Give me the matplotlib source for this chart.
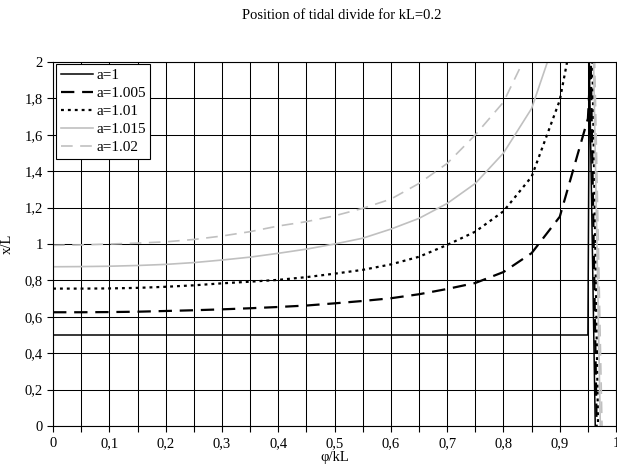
import matplotlib as mpl
import matplotlib.pyplot as plt
import numpy as np
from matplotlib.ticker import MultipleLocator, FuncFormatter

mpl.rcParams["font.family"] = ["Liberation Serif", "DejaVu Serif"]
mpl.rcParams["font.size"] = 10.5

# phi/kL sample points
phi = [0.0, 0.05, 0.1, 0.15, 0.2, 0.25, 0.3, 0.35, 0.4, 0.45,
       0.5, 0.55, 0.6, 0.65, 0.7, 0.75, 0.8, 0.85, 0.9, 0.95]

# x/L for each a
xl_a1 = [0.5] * 20
xl_a1005 = [0.625, 0.625, 0.626, 0.628, 0.632, 0.636, 0.641, 0.647, 0.654, 0.662,
            0.674, 0.687, 0.702, 0.724, 0.753, 0.786, 0.846, 0.95, 1.15, 1.69]
xl_a101 = [0.755, 0.755, 0.756, 0.759, 0.765, 0.773, 0.784, 0.793, 0.803, 0.818,
           0.837, 0.858, 0.888, 0.93, 0.995, 1.068, 1.18, 1.37, 1.79, 2.6]
xl_a1015 = [0.875, 0.876, 0.878, 0.882, 0.888, 0.898, 0.912, 0.928, 0.949, 0.972,
            1.0, 1.032, 1.082, 1.141, 1.223, 1.333, 1.5, 1.745, 2.2, 3.5]
xl_a102 = [0.993, 0.995, 1.0, 1.005, 1.012, 1.025, 1.044, 1.068, 1.099, 1.123,
           1.155, 1.196, 1.247, 1.333, 1.443, 1.6, 1.78, 2.1, 2.8, 4.0]

# points past the singularity near phi/kL ~ 0.96
tail_phi = [[0.9525, 0.963], [0.955, 0.9655], [0.958, 0.968], [0.960, 0.972], [0.962, 0.975]]
tail_xl = [[2.0, 0.0], [2.0, 0.0], [2.0, 0.0], [2.0, 0.0], [2.0, 0.0]]

labels = ["a=1", "a=1.005", "a=1.01", "a=1.015", "a=1.02"]
series = [xl_a1, xl_a1005, xl_a101, xl_a1015, xl_a102]
styles = [
    dict(color="black", lw=1.1, ls="-"),
    dict(color="black", lw=1.6, ls=(0, (6, 3.5))),
    dict(color="black", lw=1.6, ls=(0, (1.3, 1.8))),
    dict(color="#c0c0c0", lw=1.2, ls="-"),
    dict(color="#c0c0c0", lw=1.2, ls=(0, (7, 4.5))),
]

fig = plt.figure(figsize=(6.17, 4.72), dpi=100)
ax = fig.add_axes([0.086, 0.0975, 0.9125, 0.771])

for ys, tp, ty, lab, st in zip(series, tail_phi, tail_xl, labels, styles):
    ax.plot(phi + tp, ys + ty, label=lab, **st)

ax.set_xlim(0, 1)
ax.set_ylim(0, 2)
ax.xaxis.set_major_locator(MultipleLocator(0.1))
ax.xaxis.set_minor_locator(MultipleLocator(0.05))
ax.yaxis.set_major_locator(MultipleLocator(0.2))

comma = FuncFormatter(lambda v, p: ("%g" % round(v, 2)).replace(".", ","))
ax.xaxis.set_major_formatter(comma)
ax.yaxis.set_major_formatter(comma)

ax.tick_params(which="both", direction="out", length=4, width=0.8, color="black")
ax.tick_params(axis="x", pad=4)
ax.grid(which="both", axis="x", color="black", lw=0.75)
ax.grid(which="major", axis="y", color="black", lw=0.75)
ax.set_axisbelow(True)
for sp in ax.spines.values():
    sp.set_color("black")
    sp.set_linewidth(0.8)

ax.set_xlabel("φ/kL", labelpad=1)
ax.set_ylabel("x/L")
ax.yaxis.set_label_coords(-0.07, 0.5)
fig.text(0.553, 0.968, "Position of tidal divide for kL=0.2", ha="center", va="center")

leg = ax.legend(loc="upper left", bbox_to_anchor=(0.006, 0.995), frameon=True,
                fancybox=False, framealpha=1, edgecolor="black", borderpad=0.3,
                labelspacing=0.28, handlelength=2.1, handletextpad=0.2,
                borderaxespad=0.0, fontsize=11)
leg.get_frame().set_linewidth(0.8)

plt.savefig("out.png", dpi=100)
